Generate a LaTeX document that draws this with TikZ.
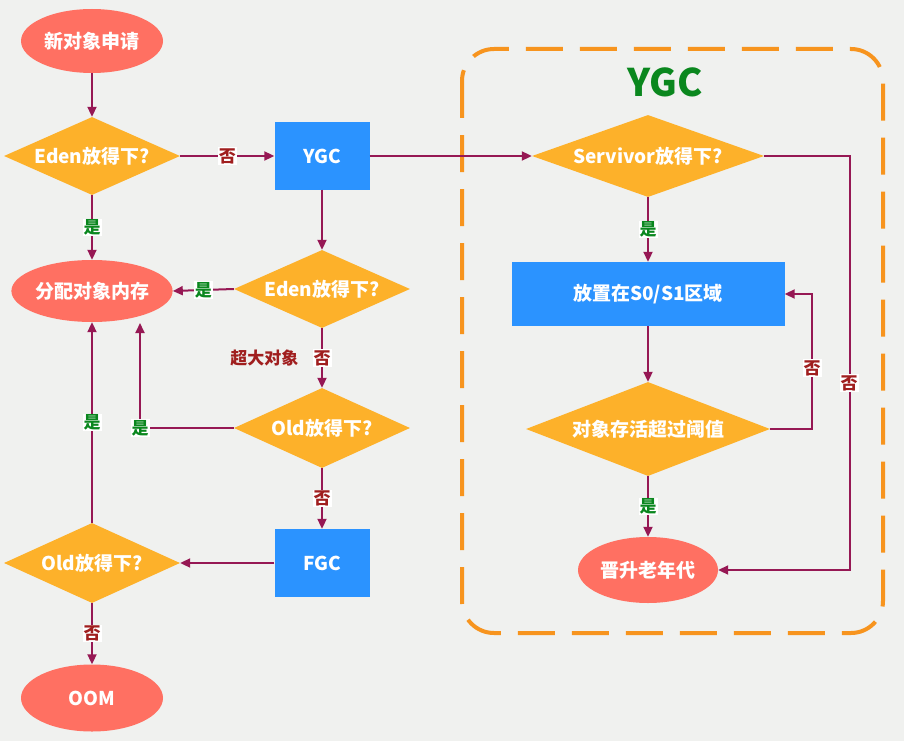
\documentclass[tikz,border=0pt]{standalone}
\usepackage{fontspec}
\setmainfont{Noto Sans CJK SC}
\usetikzlibrary{shapes.geometric,arrows.meta,calc}
\definecolor{bg}{RGB}{240,241,239}
\definecolor{salmon}{RGB}{255,112,98}
\definecolor{gold}{RGB}{253,177,42}
\definecolor{blu}{RGB}{43,147,255}
\definecolor{lnk}{RGB}{150,24,84}
\definecolor{nored}{RGB}{160,30,30}
\definecolor{yesgreen}{RGB}{10,135,30}
\definecolor{dashor}{RGB}{247,148,30}
\begin{document}
\begin{tikzpicture}[x=1pt,y=-1pt,
  base/.style={font=\fontsize{19}{21}\selectfont\bfseries, text=white, inner sep=0},
  oval/.style={base, ellipse, fill=salmon, minimum width=142, minimum height=64},
  dia/.style={base, diamond, fill=gold, minimum width=176, minimum height=78, aspect=2.256},
  box/.style={base, rectangle, fill=blu, minimum width=95, minimum height=67},
  arr/.style={draw=lnk, line width=2, -{Triangle[length=10,width=9]}},
  ln/.style={draw=lnk, line width=2},
  yes/.style={fill=white, text=yesgreen, font=\fontsize{17}{18}\selectfont\bfseries, inner sep=1},
  no/.style={fill=white, text=nored, font=\fontsize{17}{18}\selectfont\bfseries, inner sep=1},
  lab/.style={text=nored, font=\fontsize{17}{18}\selectfont\bfseries, inner sep=1},
]
\path[fill=bg] (0,0) rectangle (904,741);
\useasboundingbox (0,0) rectangle (904,741);

% dashed YGC frame
\draw[dashor, line width=4, dash pattern=on 37 off 17, rounded corners=32] (462,49) rectangle (883,633);
\node[font=\fontsize{38}{40}\selectfont\bfseries, text=yesgreen] (title) at (665,82) {YGC};

% left part
\node[oval] (new) at (92,41) {新对象申请};
\node[dia] (eden1) at (92,156) {Eden放得下?};
\node[box] (ygc) at (322,156) {YGC};
\node[oval, minimum height=62] (alloc) at (92,291) {分配对象内存};
\node[dia] (eden2) at (322,289) {Eden放得下?};
\node[dia, minimum height=80, aspect=2.2] (old1) at (322,428) {Old放得下?};
\node[box, minimum height=68] (fgc) at (322,563) {FGC};
\node[dia, minimum height=80, aspect=2.2] (old2) at (92,563) {Old放得下?};
\node[oval, minimum height=67] (oom) at (92,698) {OOM};

% right part
\node[dia, minimum width=232, minimum height=82, aspect=2.83] (serv) at (648,156) {Servivor放得下?};
\node[box, minimum width=273, minimum height=64] (place) at (648,294) {放置在S0/S1区域};
\node[dia, minimum width=244, minimum height=94, aspect=2.6] (thresh) at (648,429) {对象存活超过阈值};
\node[oval, minimum width=140, minimum height=66] (promote) at (648,570) {晋升老年代};

\coordinate (c8) at (140,323);

% connectors
\draw[arr] (new) -- (eden1);
\draw[arr] (eden1.east) -- node[no] {否} (ygc.west);
\draw[arr] (eden1.south) -- node[yes] {是} (alloc.north);
\draw[arr] (ygc.south) -- (eden2.north);
\draw[arr] (ygc.east) -- (serv.west);
\draw[arr] (eden2.west) -- node[yes] {是} (alloc.east);
\draw[arr] (eden2.south) -- node[no] (no2) {否} (old1.north);
\node[lab, anchor=east] (big) at ($(no2.west)+(-12,0)$) {超大对象};
\draw[arr] (old1.west) -| (c8);
\node[yes] (yes8) at (c8 |- old1.west) {是};
\draw[arr] (old1.south) -- node[no] {否} (fgc.north);
\draw[arr] (fgc.west) -- (old2.east);
\draw[arr] (old2.north) -- node[yes] {是} (alloc.south);
\draw[arr] (old2.south) -- node[no] {否} (oom.north);

\draw[arr] (serv.south) -- node[yes] {是} (place.north);
\draw[arr] (place.south) -- (thresh.north);
\draw[arr] (thresh.east) -- ++(42,0) |- (place.east);
\node[no] (no15) at (812,368) {否};
\draw[arr] (serv.east) -- ++(86,0) |- (promote.east);
\node[no] (no16) at (849,383) {否};
\draw[arr] (thresh.south) -- node[yes] {是} (promote.north);
\end{tikzpicture}
\end{document}
